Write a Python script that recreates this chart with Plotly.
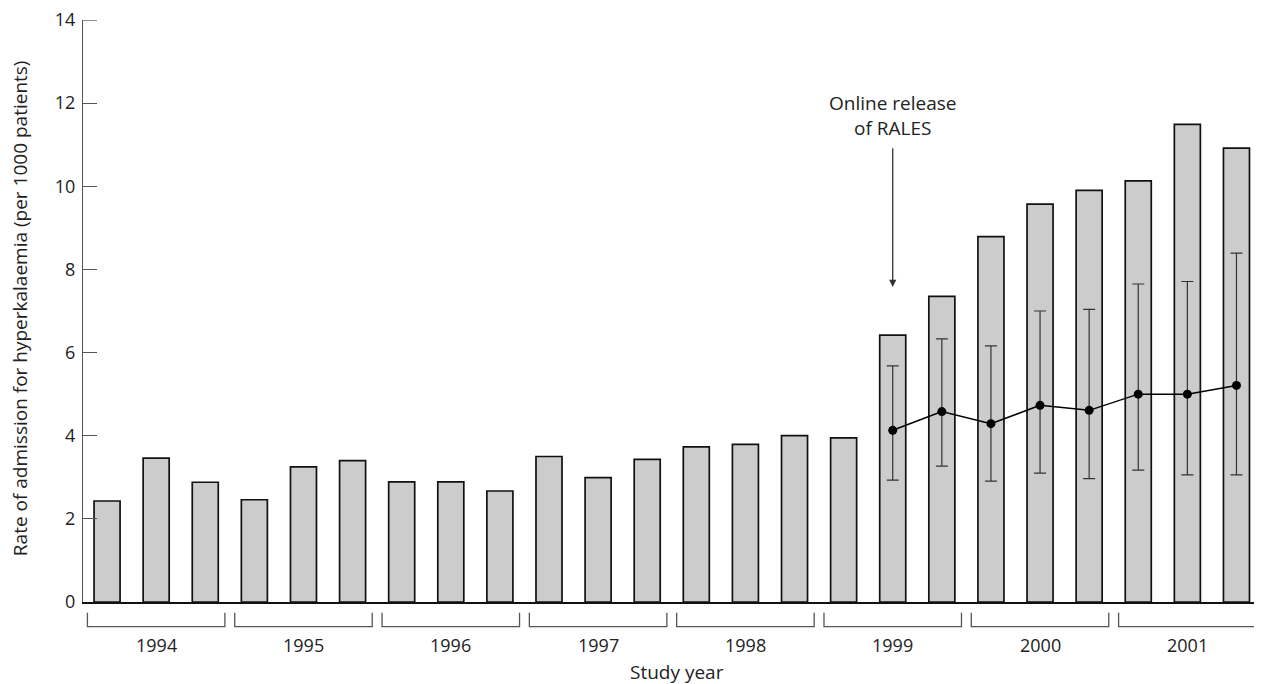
import plotly.graph_objects as go

years = ["1994", "1995", "1996", "1997", "1998", "1999", "2000", "2001"]
periods_per_year = 3

rates = [2.43, 3.46, 2.88,
         2.46, 3.25, 3.40,
         2.89, 2.89, 2.67,
         3.50, 2.99, 3.43,
         3.73, 3.79, 4.00,
         3.95, 6.42, 7.35,
         8.79, 9.57, 9.90,
         10.13, 11.49, 10.92]

expected_start = 16
expected = [4.13, 4.58, 4.29, 4.73, 4.61, 5.00, 5.00, 5.21]
ci_upper = [5.68, 6.33, 6.16, 7.00, 7.04, 7.65, 7.71, 8.39]
ci_lower = [2.93, 3.27, 2.91, 3.10, 2.97, 3.17, 3.06, 3.06]

y_ticks = [0, 2, 4, 6, 8, 10, 12, 14]

FONT = "Open Sans"
FS = 19
FS_TICK = 18
idx = list(range(len(rates)))
exp_x = list(range(expected_start, expected_start + len(expected)))

fig = go.Figure()
fig.add_trace(go.Bar(
    x=idx, y=rates, width=0.53,
    marker=dict(color="#cccccc", line=dict(color="#111111", width=1.7)),
    hoverinfo="y", showlegend=False,
))
fig.add_trace(go.Scatter(
    x=exp_x, y=expected, mode="lines+markers",
    line=dict(color="#000000", width=1.5),
    marker=dict(color="#000000", size=9),
    error_y=dict(type="data", symmetric=False,
                 array=[u - e for u, e in zip(ci_upper, expected)],
                 arrayminus=[e - l for e, l in zip(expected, ci_lower)],
                 color="#333333", thickness=1.2, width=6),
    showlegend=False,
))

# Top tick (plotly drops inside ticks at the range end)
fig.add_shape(type="line", xref="paper", yref="y",
              x0=0, x1=14 / 1179, y0=y_ticks[-1], y1=y_ticks[-1],
              line=dict(color="#555555", width=1.3))

# Year brackets under the axis
for k, yr in enumerate(years):
    c = k * periods_per_year + 1
    x0, x1 = c - 1.4, c + 1.4
    fig.add_shape(type="path",
                  path=f"M {x0},-0.0184 L {x0},-0.0424 L {x1},-0.0424 L {x1},-0.0184",
                  xref="x", yref="paper",
                  line=dict(color="#555555", width=1.3))
    fig.add_annotation(x=c, y=-0.0739, xref="x", yref="paper", text=yr,
                       showarrow=False, xanchor="center", yanchor="middle",
                       font=dict(family=FONT, size=FS_TICK, color="#222222"))

fig.add_annotation(x=11.6, y=-0.121, xref="x", yref="paper", text="Study year",
                   showarrow=False, xanchor="center", yanchor="middle",
                   font=dict(family=FONT, size=FS, color="#222222"))

fig.add_annotation(x=-0.0534, y=0.505, xref="paper", yref="paper",
                   text="Rate of admission for hyperkalaemia (per 1000 patients)",
                   textangle=-90, showarrow=False, xanchor="center", yanchor="middle",
                   font=dict(family=FONT, size=FS, color="#222222"))

# Arrow and label
fig.add_annotation(x=expected_start, y=7.58, ax=expected_start, ay=10.95,
                   xref="x", yref="y", axref="x", ayref="y", text="",
                   showarrow=True, arrowhead=2, arrowsize=1.1, arrowwidth=1.3,
                   arrowcolor="#333333")
fig.add_annotation(x=expected_start, y=11.70, xref="x", yref="y",
                   text="Online release<br>of RALES", showarrow=False,
                   xanchor="center", yanchor="middle",
                   font=dict(family=FONT, size=FS, color="#222222"))

fig.update_layout(
    width=1254, height=676,
    margin=dict(l=75, r=0, t=12, b=82),
    plot_bgcolor="white", paper_bgcolor="white",
    font=dict(family=FONT, size=FS, color="#222222"),
    xaxis=dict(range=[-0.49, 23.52], showticklabels=False, ticks="",
               showgrid=False, zeroline=False, showline=True,
               linecolor="#111111", linewidth=1.5),
    yaxis=dict(range=[0, 14], tickvals=y_ticks, ticks="inside", ticklen=14,
               tickcolor="#555555", tickwidth=1.3, showgrid=False, zeroline=False,
               showline=True, linecolor="#555555", linewidth=1.3,
               ticklabelstandoff=3, ticklabeloverflow="allow",
               tickfont=dict(family=FONT, size=FS_TICK, color="#222222")),
)

fig.write_html("out.html")
